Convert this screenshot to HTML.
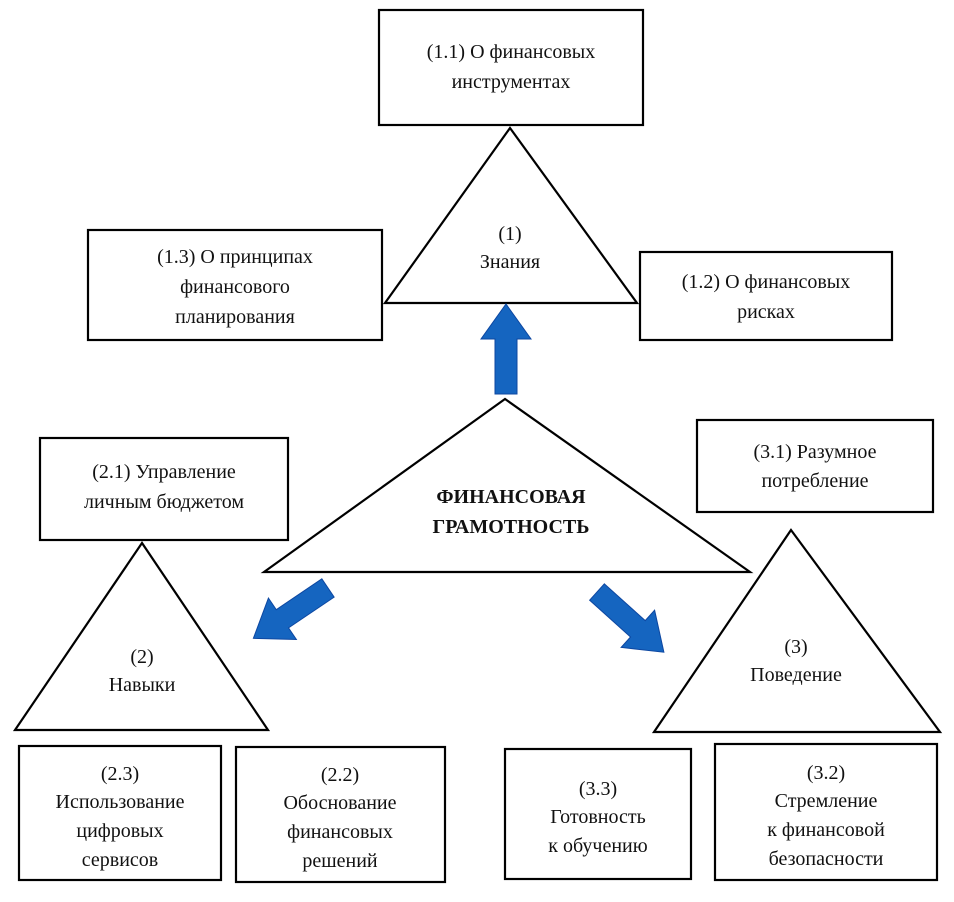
<!DOCTYPE html>
<html><head><meta charset="utf-8"><style>
html,body{margin:0;padding:0;background:#fff}
svg text{font-family:"Liberation Serif",serif;font-size:20px;fill:#111}
</style></head><body>
<svg width="954" height="897" viewBox="0 0 954 897" xmlns="http://www.w3.org/2000/svg">
<defs>
<polygon id="arr" points="0,-11 55,-11 55,-25 90,0 55,25 55,11 0,11" fill="#1565c0" stroke="#0d47a1" stroke-width="1"/>
</defs>
<g fill="#fff" stroke="#000" stroke-width="2.2">
<rect x="379" y="10" width="264" height="115"/>
<polygon points="510,128 385,303 637,303"/>
<rect x="88" y="230" width="294" height="110"/>
<rect x="640" y="252" width="252" height="88"/>
<rect x="40" y="438" width="248" height="102"/>
<rect x="697" y="420" width="236" height="92"/>
<polygon points="505,399 264,572 750,572"/>
<polygon points="142,543 15,730 268,730"/>
<polygon points="791,530 654,732 940,732"/>
<rect x="19" y="746" width="202" height="134"/>
<rect x="236" y="747" width="209" height="135"/>
<rect x="505" y="749" width="186" height="130"/>
<rect x="715" y="744" width="222" height="136"/>
</g>
<use href="#arr" transform="translate(506,394) rotate(-90)"/>
<use href="#arr" transform="translate(328,588) rotate(146)"/>
<use href="#arr" transform="translate(597,592) rotate(42)"/>
<g text-anchor="middle">
<text x="511" y="58">(1.1) О финансовых</text>
<text x="511" y="88">инструментах</text>
<text x="510" y="240">(1)</text>
<text x="510" y="268">Знания</text>
<text x="235" y="263">(1.3) О принципах</text>
<text x="235" y="293">финансового</text>
<text x="235" y="323">планирования</text>
<text x="766" y="288">(1.2) О финансовых</text>
<text x="766" y="318">рисках</text>
<text x="164" y="478">(2.1) Управление</text>
<text x="164" y="508">личным бюджетом</text>
<text x="815" y="458">(3.1) Разумное</text>
<text x="815" y="487">потребление</text>
<text x="511" y="503" style="font-weight:bold">ФИНАНСОВАЯ</text>
<text x="511" y="533" style="font-weight:bold">ГРАМОТНОСТЬ</text>
<text x="142" y="663">(2)</text>
<text x="142" y="691">Навыки</text>
<text x="796" y="653">(3)</text>
<text x="796" y="681">Поведение</text>
<text x="120" y="780">(2.3)</text>
<text x="120" y="808">Использование</text>
<text x="120" y="837">цифровых</text>
<text x="120" y="866">сервисов</text>
<text x="340" y="781">(2.2)</text>
<text x="340" y="809">Обоснование</text>
<text x="340" y="838">финансовых</text>
<text x="340" y="867">решений</text>
<text x="598" y="795">(3.3)</text>
<text x="598" y="823">Готовность</text>
<text x="598" y="852">к обучению</text>
<text x="826" y="779">(3.2)</text>
<text x="826" y="807">Стремление</text>
<text x="826" y="836">к финансовой</text>
<text x="826" y="865">безопасности</text>
</g>
</svg>
</body></html>
